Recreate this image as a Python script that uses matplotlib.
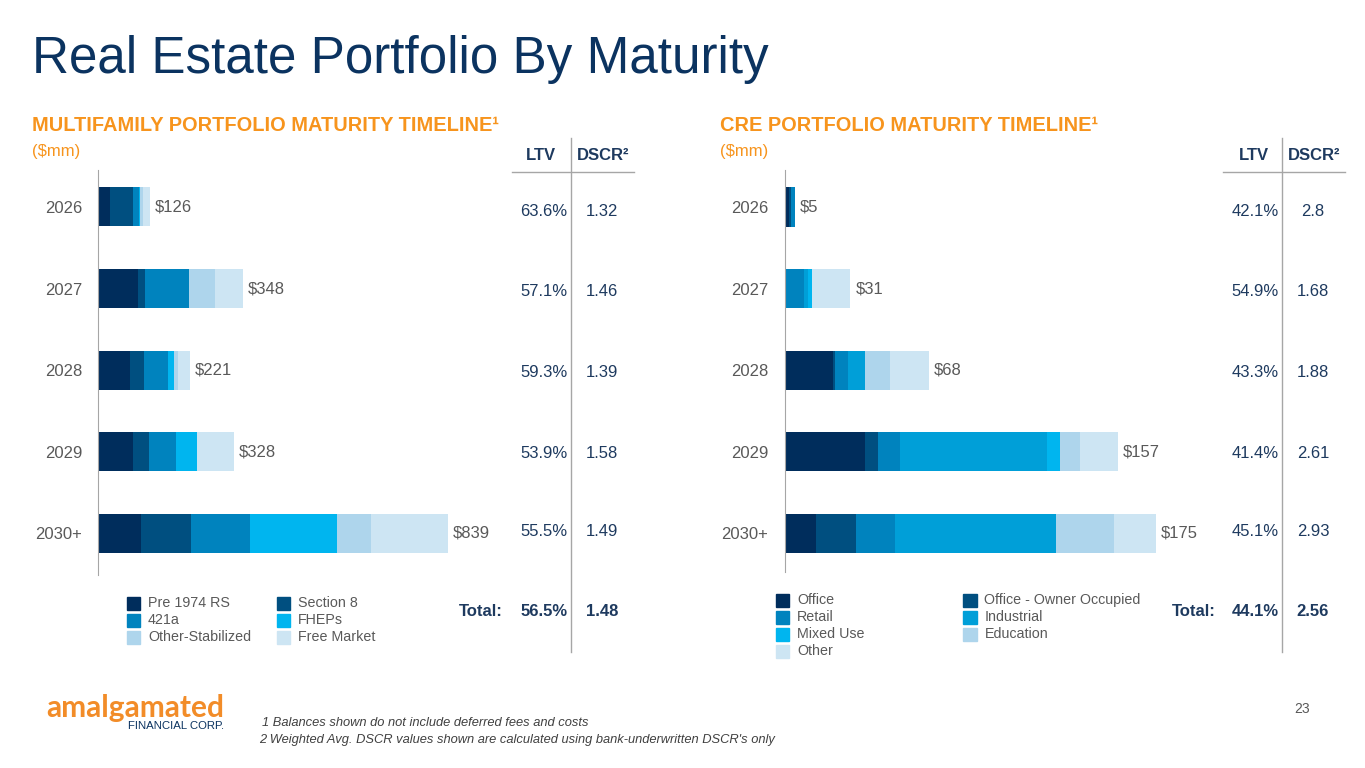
import matplotlib
matplotlib.use("Agg")
import matplotlib.pyplot as plt
from matplotlib.lines import Line2D
from matplotlib.patches import Rectangle
import numpy as np

plt.rcParams['font.family'] = ['Liberation Sans', 'DejaVu Sans']

# ---- data ----
years = ['2026', '2027', '2028', '2029', '2030+']

mf_series = ['Pre 1974 RS', 'Section 8', '421a', 'FHEPs', 'Other-Stabilized', 'Free Market']
mf_pre1974 = [30, 97, 78, 86, 105]
mf_section8 = [56, 18, 34, 37, 120]
mf_421a = [14, 105, 57, 66, 141]
mf_fheps = [2, 0, 15, 50, 208]
mf_otherstab = [7, 61, 8, 0, 82]
mf_free = [17, 67, 29, 89, 183]
mf_ltv = ['63.6%', '57.1%', '59.3%', '53.9%', '55.5%']
mf_dscr = ['1.32', '1.46', '1.39', '1.58', '1.49']
mf_total_ltv, mf_total_dscr = '56.5%', '1.48'

cre_series = ['Office', 'Office - Owner Occupied', 'Retail', 'Industrial',
              'Mixed Use', 'Education', 'Other']
cre_office = [2.2, 0, 22.6, 38.1, 14.8]
cre_owner = [0.6, 0, 1.0, 5.7, 18.9]
cre_retail = [2.2, 9.3, 6.1, 10.4, 18.1]
cre_industrial = [0, 1.6, 8.3, 69.5, 76.1]
cre_mixed = [0, 2.0, 0, 6.3, 0]
cre_education = [0, 0, 11.6, 9.4, 27.2]
cre_other = [0, 18.1, 18.4, 17.6, 19.9]
cre_ltv = ['42.1%', '54.9%', '43.3%', '41.4%', '45.1%']
cre_dscr = ['2.8', '1.68', '1.88', '2.61', '2.93']
cre_total_ltv, cre_total_dscr = '44.1%', '2.56'

# ---- styles ----
W, H = 1365, 768
NAVY = '#0B3360'
TXT = '#1E3A5F'
GRAY = '#595959'
ORANGE = '#F7941D'
LINE = '#A6A6A6'
mf_colors = ['#002D5C', '#004F80', '#0083BE', '#00B5EF', '#AED5EC', '#CDE5F3']
cre_colors = ['#002D5C', '#004F80', '#0083BE', '#009FD8', '#00B5EF', '#AED5EC', '#CDE5F3']


def fx(x):
    return x / W


def fy(y):
    return 1 - y / H


def txt(x, y, s, **kw):
    kw.setdefault('va', 'center')
    fig.text(fx(x), fy(y), s, **kw)


def vline(x, y0, y1):
    fig.add_artist(Line2D([fx(x), fx(x)], [fy(y0), fy(y1)], color=LINE, lw=1))


def hline(x0, x1, y):
    fig.add_artist(Line2D([fx(x0), fx(x1)], [fy(y), fy(y)], color=LINE, lw=1))


def bar_panel(rect, xmax, ybottom, data, colors, label_pad):
    ax = fig.add_axes(rect)
    pos = np.arange(len(years))
    left = np.zeros(len(years))
    for vals, c in zip(data, colors):
        ax.barh(pos, vals, left=left, color=c, height=0.478)
        left += np.array(vals)
    for p, tot in zip(pos, left):
        ax.annotate(f'${tot:.0f}', (tot, p), xytext=(3.5, 0), textcoords='offset points',
                    va='center', ha='left', fontsize=12, color=GRAY)
    ax.set_xlim(0, xmax)
    ax.set_ylim(ybottom, -0.4534)
    ax.set_yticks(pos)
    ax.set_yticklabels(years, fontsize=12, color=GRAY)
    ax.tick_params(axis='y', length=0, pad=label_pad)
    ax.set_xticks([])
    for s in ['top', 'right', 'bottom']:
        ax.spines[s].set_visible(False)
    ax.spines['left'].set_color(LINE)
    ax.patch.set_alpha(0)
    return ax


def legend(names, colors, x1, x2, rows):
    nrow = len(rows)
    for i, (n, c) in enumerate(zip(names, colors)):
        col, row = divmod(i, nrow)
        sx = x1 if col == 0 else x2
        y = rows[row]
        fig.add_artist(Rectangle((fx(sx), fy(y + 6.5)), 13.5 / W, 13 / H,
                                 color=c, transform=fig.transFigure))
        txt(sx + 21.5, y, n, fontsize=10.3, color=GRAY)


def table(xl, xd, xv, y_head, vals_ltv, vals_dscr, tot_ltv, tot_dscr, xtot):
    txt(xl, 155, 'LTV', ha='center', fontsize=12, fontweight='bold', color=TXT)
    txt(xd, 155, 'DSCR²', ha='center', fontsize=12, fontweight='bold', color=TXT)
    vline(xv, 138, 652)
    hline(xv - 59, xv + 63, 172)
    for y, l, d in zip(y_head, vals_ltv, vals_dscr):
        txt(xv - 3, y, l, ha='right', fontsize=12, color=TXT)
        txt(xd - 1, y, d, ha='center', fontsize=12, color=TXT)
    txt(xtot, 611, 'Total:', ha='right', fontsize=12, fontweight='bold', color=TXT)
    txt(xv - 3, 611, tot_ltv, ha='right', fontsize=12, fontweight='bold', color=TXT)
    txt(xd - 1, 611, tot_dscr, ha='center', fontsize=12, fontweight='bold', color=TXT)


fig = plt.figure(figsize=(W / 100, H / 100), dpi=100)

# title & headers
txt(32, 73, 'Real Estate Portfolio By Maturity', va='baseline', fontsize=36.8, color=NAVY)
txt(32, 131, 'MULTIFAMILY PORTFOLIO MATURITY TIMELINE¹', va='baseline', fontsize=14.4,
    fontweight='bold', color=ORANGE)
txt(32, 156, '($mm)', va='baseline', fontsize=12, color=ORANGE)
txt(720, 131, 'CRE PORTFOLIO MATURITY TIMELINE¹', va='baseline', fontsize=14.4,
    fontweight='bold', color=ORANGE)
txt(720, 156, '($mm)', va='baseline', fontsize=12, color=ORANGE)

# bars
mf_data = [mf_pre1974, mf_section8, mf_421a, mf_fheps, mf_otherstab, mf_free]
cre_data = [cre_office, cre_owner, cre_retail, cre_industrial, cre_mixed, cre_education, cre_other]
bar_panel([fx(97.5), fy(575), 400 / W, 405 / H], 400 * 2.396, 4.51, mf_data, mf_colors, 11)
bar_panel([fx(784.7), fy(572), 400 / W, 402 / H], 400 * 0.4717, 4.473, cre_data, cre_colors, 12)

# LTV / DSCR tables
row_y = [211, 291, 373, 453, 532]
table(541, 603, 570.5, row_y, mf_ltv, mf_dscr, mf_total_ltv, mf_total_dscr, 503)
table(1254, 1314, 1282, row_y, cre_ltv, cre_dscr, cre_total_ltv, cre_total_dscr, 1216)

# legends
legend(mf_series[0::2] + mf_series[1::2],
       [mf_colors[i] for i in (0, 2, 4, 1, 3, 5)], 126.5, 276.5, [603, 620, 637])
cre_order = [0, 2, 4, 6, 1, 3, 5]
legend([cre_series[i] for i in cre_order], [cre_colors[i] for i in cre_order],
       775.5, 963, [600, 617, 634, 651])

# logo, footnotes, page number
txt(224, 717, 'amalgamated', ha='right', va='baseline', fontsize=21.5,
    fontweight='bold', color='#F28C28', family=['Lato', 'Liberation Sans'])
txt(224, 726, 'FINANCIAL CORP.', ha='right', fontsize=8.2, color=NAVY)
txt(262, 723, '1 Balances shown do not include deferred fees and costs',
    fontsize=9.25, style='italic', color='#404040')
txt(259, 740, "2 Weighted Avg. DSCR values shown are calculated using bank-underwritten DSCR's only",
    fontsize=9.25, style='italic', color='#404040')
txt(1310, 709, '23', ha='right', fontsize=10, color=GRAY)

fig.savefig('out.png', dpi=100)
